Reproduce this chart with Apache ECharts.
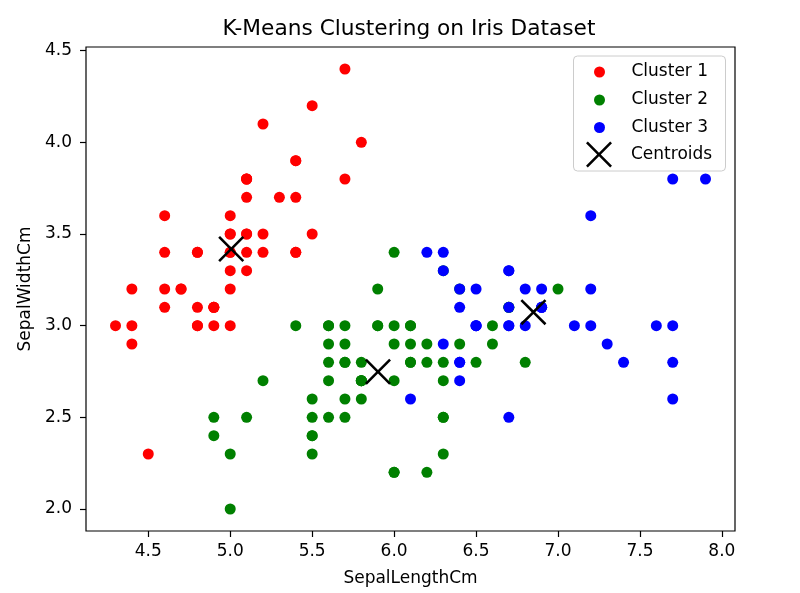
<!DOCTYPE html>
<html>
<head>
<meta charset="utf-8">
<script src="https://cdn.jsdelivr.net/npm/echarts@6/dist/echarts.min.js"></script>
<style>
html,body{margin:0;padding:0;background:#fff;}
#chart{width:800px;height:593px;}
</style>
</head>
<body>
<div id="chart"></div>
<script>
const titleText = 'K-Means Clustering on Iris Dataset';
const xName = 'SepalLengthCm';
const yName = 'SepalWidthCm';
const seriesNames = ['Cluster 1', 'Cluster 2', 'Cluster 3', 'Centroids'];
const xTicks = [4.5, 5.0, 5.5, 6.0, 6.5, 7.0, 7.5, 8.0];
const yTicks = [2.0, 2.5, 3.0, 3.5, 4.0, 4.5];

const cluster1 = [
  [5.1,3.5],[4.9,3.0],[4.7,3.2],[4.6,3.1],[5.0,3.6],[5.4,3.9],[4.6,3.4],[5.0,3.4],[4.4,2.9],[4.9,3.1],
  [5.4,3.7],[4.8,3.4],[4.8,3.0],[4.3,3.0],[5.8,4.0],[5.7,4.4],[5.4,3.9],[5.1,3.5],[5.7,3.8],[5.1,3.8],
  [5.4,3.4],[5.1,3.7],[4.6,3.6],[5.1,3.3],[4.8,3.4],[5.0,3.0],[5.0,3.4],[5.2,3.5],[5.2,3.4],[4.7,3.2],
  [4.8,3.1],[5.4,3.4],[5.2,4.1],[5.5,4.2],[4.9,3.1],[5.0,3.2],[5.5,3.5],[4.9,3.1],[4.4,3.0],[5.1,3.4],
  [5.0,3.5],[4.5,2.3],[4.4,3.2],[5.0,3.5],[5.1,3.8],[4.8,3.0],[5.1,3.8],[4.6,3.2],[5.3,3.7],[5.0,3.3]
];
const cluster2 = [
  [7.0,3.2],[6.4,3.2],[5.5,2.3],[6.5,2.8],[5.7,2.8],[6.3,3.3],[4.9,2.4],[6.6,2.9],[5.2,2.7],[5.0,2.0],
  [5.9,3.0],[6.0,2.2],[6.1,2.9],[5.6,2.9],[6.7,3.1],[5.6,3.0],[5.8,2.7],[6.2,2.2],[5.6,2.5],[5.9,3.2],
  [6.1,2.8],[6.3,2.5],[6.1,2.8],[6.4,2.9],[6.6,3.0],[6.8,2.8],[6.0,2.9],[5.7,2.6],[5.5,2.4],[5.5,2.4],
  [5.8,2.7],[6.0,2.7],[5.4,3.0],[6.0,3.4],[6.7,3.1],[6.3,2.3],[5.6,3.0],[5.5,2.5],[5.5,2.6],[6.1,3.0],
  [5.8,2.6],[5.0,2.3],[5.6,2.7],[5.7,3.0],[5.7,2.9],[6.2,2.9],[5.1,2.5],[5.7,2.8],
  [5.8,2.7],[4.9,2.5],[5.7,2.5],[5.8,2.8],[6.0,2.2],[5.6,2.8],[6.3,2.7],[6.2,2.8],[6.1,3.0],[6.3,2.8],
  [6.0,3.0],[5.8,2.7],[6.3,2.5],[5.9,3.0]
];
const cluster3 = [
  [6.9,3.1],[6.7,3.0],
  [6.3,3.3],[7.1,3.0],[6.3,2.9],[6.5,3.0],[7.6,3.0],[7.3,2.9],[6.7,2.5],[7.2,3.6],[6.5,3.2],[6.4,2.7],
  [6.8,3.0],[6.4,3.2],[6.5,3.0],[7.7,3.8],[7.7,2.6],[6.9,3.2],[7.7,2.8],[6.7,3.3],[7.2,3.2],[6.4,2.8],
  [7.2,3.0],[7.4,2.8],[7.9,3.8],[6.4,2.8],[6.1,2.6],[7.7,3.0],[6.3,3.4],[6.4,3.1],[6.9,3.1],[6.7,3.1],
  [6.9,3.1],[6.8,3.2],[6.7,3.3],[6.7,3.0],[6.5,3.0],[6.2,3.4]
];
const centroids = [[5.006,3.418],[5.9016,2.7484],[6.85,3.0737]];

const FONT = 'DejaVu Sans';
const X_PATH = 'path://M0,7L7,0L50,43L93,0L100,7L57,50L100,93L93,100L50,57L7,100L0,93L43,50Z';

const chart = echarts.init(document.getElementById('chart'), null, {renderer: 'canvas'});

function legendAt(name, left, centerY, itemH) {
  const h = Math.max(itemH, 20);
  return {
    data: [name],
    orient: 'vertical',
    left: left,
    top: centerY - h / 2,
    padding: 0,
    itemWidth: 54,
    itemHeight: itemH,
    selectedMode: false,
    z: 20,
    textStyle: {fontFamily: FONT, fontSize: 17, color: '#000', lineHeight: 20}
  };
}

const option = {
  animation: false,
  backgroundColor: '#fff',
  title: {
    text: titleText,
    left: 409,
    top: 18,
    textAlign: 'center',
    padding: 0,
    textStyle: {fontFamily: FONT, fontSize: 21.7, fontWeight: 'normal', color: '#000'}
  },
  graphic: [{
    type: 'rect',
    shape: {x: 573.5, y: 56, width: 152, height: 115, r: 4},
    style: {fill: 'rgba(255,255,255,0.8)', stroke: '#cccccc', lineWidth: 1},
    z: 10
  }],
  legend: [
    legendAt(seriesNames[0], 594, 72, 11),
    legendAt(seriesNames[1], 594, 100, 11),
    legendAt(seriesNames[2], 594, 127.5, 11),
    legendAt(seriesNames[3], 586, 154.5, 26)
  ],
  grid: {
    left: 86, right: 65, top: 47, bottom: 62,
    show: true, borderColor: '#000', borderWidth: 1.2, backgroundColor: 'transparent'
  },
  xAxis: {
    type: 'value',
    min: 4.12, max: 8.08,
    name: xName,
    nameLocation: 'middle',
    nameGap: 39,
    nameTextStyle: {fontFamily: FONT, fontSize: 17, color: '#000'},
    axisLine: {show: false},
    splitLine: {show: false},
    axisTick: {show: true, inside: false, length: 6, customValues: xTicks, lineStyle: {color: '#000', width: 1.2}},
    axisLabel: {customValues: xTicks, formatter: v => Number(v).toFixed(1), margin: 12,
      fontFamily: FONT, fontSize: 17, color: '#000'}
  },
  yAxis: {
    type: 'value',
    min: 1.88, max: 4.52,
    name: yName,
    nameLocation: 'middle',
    nameGap: 48,
    nameTextStyle: {fontFamily: FONT, fontSize: 17, color: '#000'},
    axisLine: {show: false},
    splitLine: {show: false},
    axisTick: {show: true, inside: false, length: 6, customValues: yTicks, lineStyle: {color: '#000', width: 1.2}},
    axisLabel: {customValues: yTicks, formatter: v => Number(v).toFixed(1), margin: 14,
      fontFamily: FONT, fontSize: 17, color: '#000'}
  },
  series: [
    {name: seriesNames[0], type: 'scatter', data: cluster1, symbol: 'circle', symbolSize: 11,
      itemStyle: {color: '#ff0000', opacity: 1}, z: 2},
    {name: seriesNames[1], type: 'scatter', data: cluster2, symbol: 'circle', symbolSize: 11,
      itemStyle: {color: '#008000', opacity: 1}, z: 3},
    {name: seriesNames[2], type: 'scatter', data: cluster3, symbol: 'circle', symbolSize: 11,
      itemStyle: {color: '#0000ff', opacity: 1}, z: 4},
    {name: seriesNames[3], type: 'scatter', data: centroids, symbol: X_PATH, symbolSize: 26,
      itemStyle: {color: '#000', opacity: 1}, z: 5}
  ]
};
chart.setOption(option);
</script>
</body>
</html>
